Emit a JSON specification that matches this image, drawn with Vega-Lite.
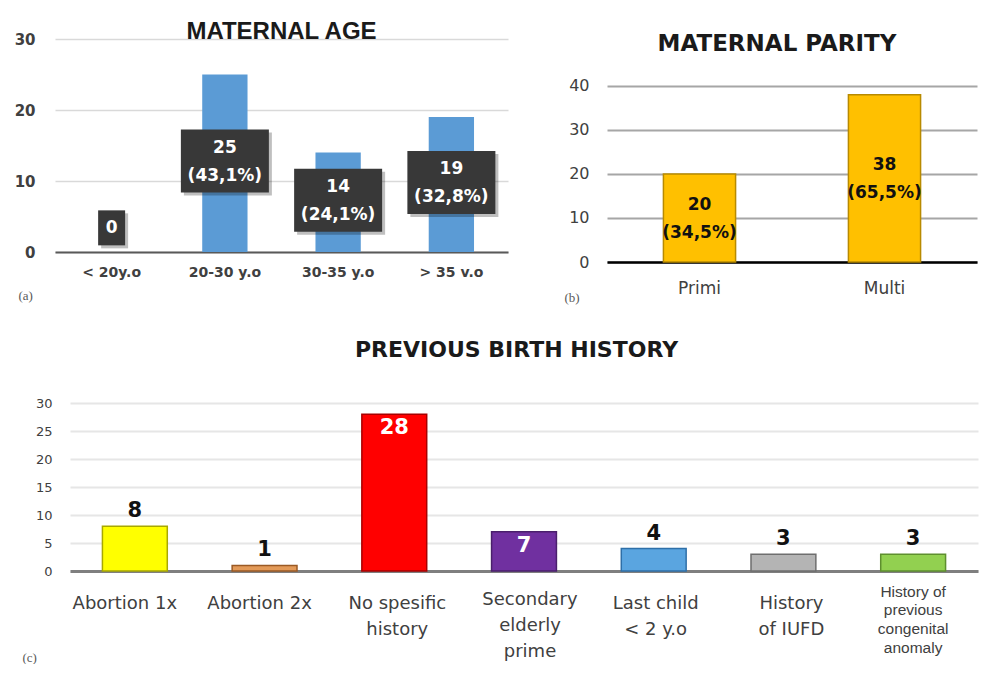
{
  "$schema": "https://vega.github.io/schema/vega-lite/v6.json",
  "background": "white",
  "padding": {"left": 14, "top": 20, "right": 5, "bottom": 0},
  "config": {"view": {"stroke": null}},
  "spacing": 35,
  "vconcat": [
    {
      "spacing": 56,
      "hconcat": [
        {
          "width": 453,
          "height": 213,
          "title": {"text": "MATERNAL AGE", "font": "Liberation Sans", "fontSize": 24, "fontWeight": "bold", "color": "#1a1a1a", "anchor": "middle", "frame": "group", "baseline": "alphabetic", "offset": -31},
          "data": {"values": [
            {"age": "< 20y.o", "n": 0, "pct": null},
            {"age": "20-30 y.o", "n": 25, "pct": "43,1%"},
            {"age": "30-35 y.o", "n": 14, "pct": "24,1%"},
            {"age": "> 35 v.o", "n": 19, "pct": "32,8%"}
          ]},
          "transform": [
            {"calculate": "datum.pct ? [toString(datum.n), '(' + datum.pct + ')'] : [toString(datum.n)]", "as": "label"},
            {"calculate": "max(datum.n / 2 + 0.3, 3.4)", "as": "labelPos"}
          ],
          "encoding": {
            "x": {"field": "age", "type": "nominal", "sort": null, "scale": {"paddingInner": 0.6, "paddingOuter": 0.3},
              "axis": {"labelAngle": 0, "labelFont": "DejaVu Sans", "labelFontSize": 14, "labelFontWeight": "bold", "labelColor": "#404040", "labelPadding": 13, "domain": true, "domainColor": "#595959", "domainWidth": 2, "ticks": false, "title": "(a)", "titleFont": "Liberation Serif", "titleFontSize": 13, "titleFontWeight": "normal", "titleColor": "#595959", "titleAnchor": "start", "titleX": -37, "titleY": 43, "titleBaseline": "middle"}}
          },
          "layer": [
            {
              "mark": {"type": "bar", "color": "#5B9BD5"},
              "encoding": {
                "y": {"field": "n", "type": "quantitative", "scale": {"domain": [0, 30]},
                  "axis": {"values": [0, 10, 20, 30], "labelOverlap": false, "labelFont": "DejaVu Sans", "labelFontSize": 15, "labelFontWeight": "bold", "labelColor": "#404040", "labelPadding": 20, "domain": false, "ticks": false, "grid": true, "gridColor": "#d9d9d9", "gridWidth": 1.5, "title": null}}
              }
            },
            {
              "mark": {"type": "point", "filled": true, "color": "#000000", "opacity": 0.25, "xOffset": 3, "yOffset": 3},
              "encoding": {
                "y": {"field": "labelPos", "type": "quantitative"},
                "shape": {"condition": {"test": "datum.n == 0", "value": "M-0.771,-1H0.771V1H-0.771Z"}, "value": "M-1,-0.716H1V0.716H-1Z"},
                "size": {"condition": {"test": "datum.n == 0", "value": 1225}, "value": 7744}
              }
            },
            {
              "mark": {"type": "point", "filled": true, "color": "#383838", "opacity": 1},
              "encoding": {
                "y": {"field": "labelPos", "type": "quantitative"},
                "shape": {"condition": {"test": "datum.n == 0", "value": "M-0.771,-1H0.771V1H-0.771Z"}, "value": "M-1,-0.716H1V0.716H-1Z"},
                "size": {"condition": {"test": "datum.n == 0", "value": 1225}, "value": 7744}
              }
            },
            {
              "transform": [{"filter": "datum.n > 0"}],
              "mark": {"type": "text", "color": "white", "font": "DejaVu Sans", "fontSize": 17, "fontWeight": "bold", "lineHeight": 28, "baseline": "middle", "align": "center", "dy": -13},
              "encoding": {
                "y": {"field": "labelPos", "type": "quantitative"},
                "text": {"field": "label"}
              }
            },
            {
              "transform": [{"filter": "datum.n == 0"}],
              "mark": {"type": "text", "color": "white", "font": "DejaVu Sans", "fontSize": 17, "fontWeight": "bold", "baseline": "middle", "align": "center"},
              "encoding": {
                "y": {"field": "labelPos", "type": "quantitative"},
                "text": {"field": "label"}
              }
            }
          ]
        },
        {
          "width": 370,
          "height": 223,
          "title": {"text": "MATERNAL PARITY", "font": "DejaVu Sans", "fontSize": 23, "fontWeight": "bold", "color": "#1a1a1a", "anchor": "middle", "frame": "group", "dx": -15, "baseline": "alphabetic", "offset": -35},
          "data": {"values": [
            {"parity": "Primi", "n": 20, "pct": "34,5%"},
            {"parity": "Multi", "n": 38, "pct": "65,5%"}
          ]},
          "transform": [
            {"calculate": "[toString(datum.n), '(' + datum.pct + ')']", "as": "label"},
            {"calculate": "datum.n / 2", "as": "labelPos"}
          ],
          "encoding": {
            "x": {"field": "parity", "type": "nominal", "sort": null, "scale": {"paddingInner": 0.61, "paddingOuter": 0.305},
              "axis": {"labelAngle": 0, "labelFont": "DejaVu Sans", "labelFontSize": 17, "labelColor": "#404040", "labelPadding": 18, "domain": true, "domainColor": "#000000", "domainWidth": 2.5, "ticks": false, "title": "(b)", "titleFont": "Liberation Serif", "titleFontSize": 13, "titleFontWeight": "normal", "titleColor": "#595959", "titleAnchor": "start", "titleX": -43, "titleY": 35, "titleBaseline": "middle"}}
          },
          "layer": [
            {
              "mark": {"type": "bar", "color": "#FFC000", "stroke": "#B88A00", "strokeWidth": 1.5},
              "encoding": {
                "y": {"field": "n", "type": "quantitative", "scale": {"domain": [0, 50.68], "nice": false},
                  "axis": {"values": [0, 10, 20, 30, 40], "labelOverlap": false, "labelFont": "DejaVu Sans", "labelFontSize": 16, "labelColor": "#404040", "labelPadding": 18, "domain": false, "ticks": false, "grid": true, "gridColor": "#a6a6a6", "gridWidth": 2, "title": null}}
              }
            },
            {
              "mark": {"type": "text", "color": "#111111", "font": "DejaVu Sans", "fontSize": 17, "fontWeight": "bold", "lineHeight": 28, "baseline": "middle", "align": "center", "dy": -13},
              "encoding": {
                "y": {"field": "labelPos", "type": "quantitative"},
                "text": {"field": "label"}
              }
            }
          ]
        }
      ]
    },
    {
      "width": 923,
      "height": 168,
      "title": {"text": "PREVIOUS BIRTH HISTORY", "font": "DejaVu Sans", "fontSize": 22, "fontWeight": "bold", "color": "#1a1a1a", "anchor": "middle", "frame": "group", "baseline": "alphabetic", "offset": 18},
      "data": {"values": [
        {"cat": "Abortion 1x", "n": 8},
        {"cat": "Abortion 2x", "n": 1},
        {"cat": "No spesific history", "n": 28},
        {"cat": "Secondary elderly prime", "n": 7},
        {"cat": "Last child < 2 y.o", "n": 4},
        {"cat": "History of IUFD", "n": 3},
        {"cat": "History of previous congenital anomaly", "n": 3}
      ]},
      "encoding": {
        "x": {"field": "cat", "type": "nominal", "sort": null, "scale": {"range": [15, 923], "paddingInner": 0.5, "paddingOuter": 0.25},
          "axis": {
            "labelAngle": 0,
            "labelFont": {"condition": {"test": "datum.value == 'History of previous congenital anomaly'", "value": "Liberation Sans"}, "value": "DejaVu Sans"},
            "labelFontSize": {"condition": {"test": "datum.value == 'History of previous congenital anomaly'", "value": 15.5}, "value": 18},
            "labelLineHeight": {"expr": "datum.value == 'History of previous congenital anomaly' ? 18.7 : 26"},
            "labelPadding": {"condition": [{"test": "datum.value == 'History of previous congenital anomaly'", "value": 13}, {"test": "datum.value == 'Secondary elderly prime'", "value": 19}], "value": 23},
            "labelOffset": {"condition": [
              {"test": "datum.value == 'Abortion 1x'", "value": -10},
              {"test": "datum.value == 'Abortion 2x'", "value": -5},
              {"test": "datum.value == 'No spesific history'", "value": 3},
              {"test": "datum.value == 'Secondary elderly prime'", "value": 6},
              {"test": "datum.value == 'Last child < 2 y.o'", "value": 2},
              {"test": "datum.value == 'History of IUFD'", "value": 8}
            ], "value": 0},
            "labelColor": "#404040", "labelLimit": 200,
            "labelExpr": "datum.label == 'No spesific history' ? ['No spesific', 'history'] : datum.label == 'Secondary elderly prime' ? ['Secondary', 'elderly', 'prime'] : datum.label == 'Last child < 2 y.o' ? ['Last child', '< 2 y.o'] : datum.label == 'History of IUFD' ? ['History', 'of IUFD'] : datum.label == 'History of previous congenital anomaly' ? ['History of', 'previous', 'congenital', 'anomaly'] : datum.label",
            "domain": true, "domainColor": "#7f7f7f", "domainWidth": 3, "ticks": false,
            "title": "(c)", "titleFont": "Liberation Serif", "titleFontSize": 13, "titleFontWeight": "normal", "titleColor": "#595959", "titleAnchor": "start", "titleX": -33, "titleY": 86, "titleBaseline": "middle"}},
        "y": {"field": "n", "type": "quantitative", "scale": {"domain": [0, 30]},
          "axis": {"values": [0, 5, 10, 15, 20, 25, 30], "labelOverlap": false, "labelFont": "DejaVu Sans", "labelFontSize": 13, "labelColor": "#404040", "labelPadding": 3, "domain": false, "ticks": false, "grid": true, "gridColor": "#e6e6e6", "gridWidth": 2, "title": null}}
      },
      "layer": [
        {
          "mark": {"type": "bar", "strokeWidth": 1.5},
          "encoding": {
            "fill": {"field": "cat", "type": "nominal", "sort": null, "legend": null,
              "scale": {"domain": ["Abortion 1x", "Abortion 2x", "No spesific history", "Secondary elderly prime", "Last child < 2 y.o", "History of IUFD", "History of previous congenital anomaly"],
                "range": ["#FFFF00", "#E39A58", "#FF0000", "#7030A0", "#5AA5E0", "#B4B4B4", "#92D050"]}},
            "stroke": {"field": "cat", "type": "nominal", "sort": null, "legend": null,
              "scale": {"domain": ["Abortion 1x", "Abortion 2x", "No spesific history", "Secondary elderly prime", "Last child < 2 y.o", "History of IUFD", "History of previous congenital anomaly"],
                "range": ["#A8A800", "#9A5A24", "#A80000", "#4A1F6C", "#2E6FA8", "#6E6E6E", "#5E8F2E"]}}
          }
        },
        {
          "transform": [{"filter": "datum.cat != 'No spesific history' && datum.cat != 'Secondary elderly prime'"}],
          "mark": {"type": "text", "color": "#111111", "font": "DejaVu Sans", "fontSize": 21, "fontWeight": "bold", "baseline": "bottom", "align": "center", "dy": -5},
          "encoding": {
            "text": {"field": "n", "type": "quantitative"}
          }
        },
        {
          "transform": [{"filter": "datum.cat == 'No spesific history' || datum.cat == 'Secondary elderly prime'"}],
          "mark": {"type": "text", "color": "white", "font": "DejaVu Sans", "fontSize": 21, "fontWeight": "bold", "baseline": "top", "align": "center", "dy": 3},
          "encoding": {
            "text": {"field": "n", "type": "quantitative"}
          }
        }
      ]
    }
  ]
}
